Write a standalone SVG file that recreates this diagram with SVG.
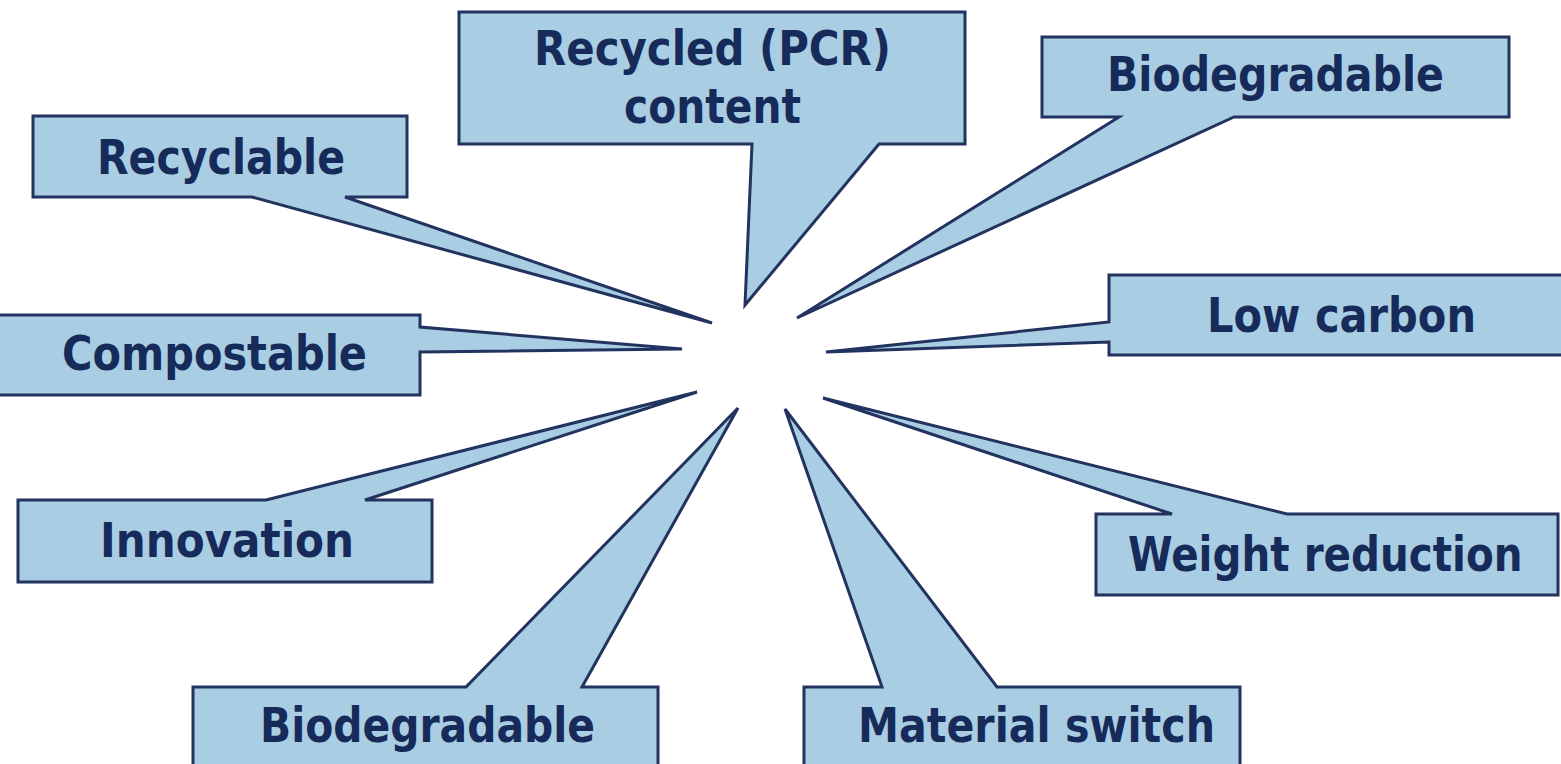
<svg xmlns="http://www.w3.org/2000/svg" width="1561" height="764" viewBox="0 0 1561 764">
<style>
.c{fill:#A9CEE3;stroke:#22335F;stroke-width:3;stroke-linejoin:miter}
.t{font-family:"DejaVu Sans","Liberation Sans",sans-serif;font-weight:bold;font-size:48px;fill:#172B5A}
</style>
<rect width="1561" height="764" fill="#FFFFFF"/>
<g id="connectors"></g>
<g id="recyclable">
<path class="c" d="M33,116 H407 V197 H345 L712,323 L252,197 H33 Z"/>
<text class="t" x="97" y="174" textLength="248" lengthAdjust="spacingAndGlyphs">Recyclable</text>
</g>
<g id="recycled-pcr">
<path class="c" d="M459,12 H965 V144 H879 L745,305 L752,144 H459 Z"/>
<text class="t" x="534" y="65" textLength="357" lengthAdjust="spacingAndGlyphs">Recycled (PCR)</text>
<text class="t" x="624" y="123" textLength="177" lengthAdjust="spacingAndGlyphs">content</text>
</g>
<g id="biodegradable-top">
<path class="c" d="M1042,37 H1509 V117 H1234 L797,318 L1119,117 H1042 Z"/>
<text class="t" x="1107" y="91" textLength="337" lengthAdjust="spacingAndGlyphs">Biodegradable</text>
</g>
<g id="low-carbon">
<path class="c" d="M1109,275 H1580 V355 H1109 V342 L826,352 L1109,322 Z"/>
<text class="t" x="1207" y="332" textLength="269" lengthAdjust="spacingAndGlyphs">Low carbon</text>
</g>
<g id="compostable">
<path class="c" d="M-10,315 H420 V327 L682,349 L420,352 V395 H-10 Z"/>
<text class="t" x="62" y="370" textLength="305" lengthAdjust="spacingAndGlyphs">Compostable</text>
</g>
<g id="innovation">
<path class="c" d="M18,500 H266 L697,392 L365,500 H432 V582 H18 Z"/>
<text class="t" x="100" y="557" textLength="254" lengthAdjust="spacingAndGlyphs">Innovation</text>
</g>
<g id="weight-reduction">
<path class="c" d="M1096,514 H1172 L823,398 L1287,514 H1558 V595 H1096 Z"/>
<text class="t" transform="translate(1128,571) scale(0.843,1)" x="0" y="0">Weight reduction</text>
</g>
<g id="biodegradable-bottom">
<path class="c" d="M193,687 H466 L738,408 L582,687 H658 V790 H193 Z"/>
<text class="t" x="260" y="742" textLength="335" lengthAdjust="spacingAndGlyphs">Biodegradable</text>
</g>
<g id="material-switch">
<path class="c" d="M804,687 H882 L785,409 L997,687 H1240 V790 H804 Z"/>
<text class="t" x="858" y="742" textLength="357" lengthAdjust="spacingAndGlyphs">Material switch</text>
</g>
</svg>
